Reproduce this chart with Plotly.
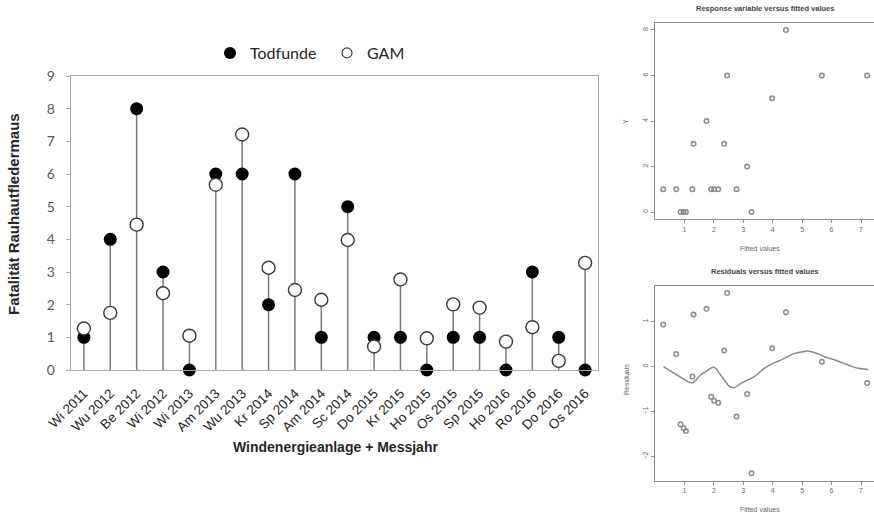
import plotly.graph_objects as go

# ---------------- data ----------------
categories = ["Wi 2011", "Wu 2012", "Be 2012", "Wi 2012", "Wi 2013", "Am 2013", "Wu 2013",
              "Kr 2014", "Sp 2014", "Am 2014", "Sc 2014", "Do 2015", "Kr 2015", "Ho 2015",
              "Os 2015", "Sp 2015", "Ho 2016", "Ro 2016", "Do 2016", "Os 2016"]
todfunde = [1, 4, 8, 3, 0, 6, 6, 2, 6, 1, 5, 1, 1, 0, 1, 1, 0, 3, 1, 0]
gam = [1.27, 1.75, 4.45, 2.35, 1.05, 5.67, 7.21, 3.13, 2.45, 2.15, 3.98, 0.72, 2.77, 0.97,
       2.01, 1.91, 0.87, 1.31, 0.28, 3.28]
residuals = [-0.22, 1.29, 1.21, 0.36, -1.43, 0.11, -0.36, -0.61, 1.64, -0.80, 0.41, 0.28, -1.11,
             -1.37, -0.76, -0.67, -1.28, 1.16, 0.94, -2.37]
smooth_x = [0.29, 0.75, 1.26, 1.55, 1.72, 2.00, 2.23, 2.52, 2.69, 2.92, 3.14, 3.37, 3.71, 4.00,
            4.23, 4.51, 4.74, 5.03, 5.20, 5.43, 5.77, 6.11, 6.57, 6.91, 7.25]
smooth_y = [0.0, -0.185, -0.356, -0.185, -0.11, -0.015, -0.185, -0.43, -0.467, -0.37, -0.30,
            -0.22, -0.04, 0.074, 0.133, 0.222, 0.296, 0.333, 0.348, 0.311, 0.222, 0.148, 0.037,
            -0.037, -0.06]
main_yticks = [0, 1, 2, 3, 4, 5, 6, 7, 8, 9]
resp_yticks = [0, 2, 4, 6, 8]
resid_yticks = [-2, -1, 0, 1]
fitted_xticks = [1, 2, 3, 4, 5, 6, 7]

W, H = 874, 515
def px_x(v):
    return v / W
def px_y(v):
    return (H - v) / H

fig = go.Figure()

# stems
sx, sy = [], []
for c, a, b in zip(categories, todfunde, gam):
    sx += [c, c, None]
    sy += [0, max(a, b), None]
fig.add_trace(go.Scatter(x=sx, y=sy, mode="lines", line=dict(color="#7a7a7a", width=1.5),
                         showlegend=False, hoverinfo="skip", xaxis="x", yaxis="y"))
fig.add_trace(go.Scatter(x=categories, y=todfunde, mode="markers", name="Todfunde",
                         marker=dict(color="black", size=13, line=dict(width=0)),
                         cliponaxis=False, showlegend=False, xaxis="x", yaxis="y"))
fig.add_trace(go.Scatter(x=categories, y=gam, mode="markers", name="GAM",
                         marker=dict(color="white", size=13, line=dict(color="#3a3a3a", width=1.4)),
                         cliponaxis=False, showlegend=False, xaxis="x", yaxis="y"))
# legend entries (smaller symbols, as in the original legend)
fig.add_trace(go.Scatter(x=[None], y=[None], mode="markers", name="Todfunde",
                         marker=dict(color="black", size=12, line=dict(width=0)),
                         xaxis="x", yaxis="y"))
fig.add_trace(go.Scatter(x=[None], y=[None], mode="markers", name="GAM",
                         marker=dict(color="white", size=10, line=dict(color="#3a3a3a", width=1.2)),
                         xaxis="x", yaxis="y"))

# response vs fitted
pt_marker = dict(symbol="circle-open", size=4.5, color="#8a8a8a", line=dict(width=1.5))
fig.add_trace(go.Scatter(x=gam, y=todfunde, mode="markers", showlegend=False,
                         marker=pt_marker, xaxis="x2", yaxis="y2"))
# residuals vs fitted
fig.add_trace(go.Scatter(x=gam, y=residuals, mode="markers", showlegend=False,
                         marker=pt_marker, xaxis="x3", yaxis="y3"))
fig.add_trace(go.Scatter(x=smooth_x, y=smooth_y, mode="lines", showlegend=False,
                         line=dict(color="#8a8a8a", width=1.5, shape="spline"),
                         xaxis="x3", yaxis="y3"))

gray_line = "#a8a8a8"
r_line = "#8c8c8c"
small_font = dict(family="Liberation Sans, Arial", size=7, color="#666666")

# right panel x range so that 0 -> 655px and 7 -> 861px
ppu = (861 - 655) / 7.0
x_end = (874 - 655) / ppu

fig.update_layout(
    width=W, height=H, margin=dict(l=0, r=0, t=0, b=0, autoexpand=False),
    paper_bgcolor="white", plot_bgcolor="white",
    showlegend=True,
    legend=dict(orientation="h", x=px_x(210), y=px_y(53), xanchor="left", yanchor="middle",
                font=dict(family="Lato, Open Sans", size=16, color="#262626"),
                itemwidth=30, entrywidth=72, entrywidthmode="pixels",
                bgcolor="rgba(0,0,0,0)"),
    xaxis=dict(domain=[px_x(70.7), px_x(598.3)], type="category", range=[-0.5, 19.5],
               showline=True, linecolor=gray_line, linewidth=1.2, mirror=True,
               showgrid=False, zeroline=False, ticks="", tickangle=-45,
               ticklabelstandoff=9,
               tickfont=dict(family="Liberation Sans, Arial", size=13.5, color="#1e1e1e"),
               anchor="y"),
    yaxis=dict(domain=[px_y(370), px_y(76)], range=[0, 9], tickvals=main_yticks,
               showline=True, linecolor=gray_line, linewidth=1.2, mirror=True,
               showgrid=False, zeroline=False, ticks="outside", ticklen=4, tickcolor=gray_line,
               ticklabelstandoff=8,
               tickfont=dict(family="Lato, Open Sans", size=14, color="#595959"),
               anchor="x"),
    xaxis2=dict(domain=[px_x(655), 1.0], range=[0, x_end], tickvals=fitted_xticks,
                showline=True, linecolor=r_line, linewidth=1, mirror=True,
                showgrid=False, zeroline=False, ticks="outside", ticklen=3, tickcolor=r_line,
                tickfont=small_font, anchor="y2"),
    yaxis2=dict(domain=[px_y(219.3), px_y(22.7)], range=[-0.32, 8.32], tickvals=resp_yticks,
                showline=True, linecolor=r_line, linewidth=1, mirror=True,
                showgrid=False, zeroline=False, ticks="outside", ticklen=3, tickcolor=r_line,
                tickangle=-90, tickfont=small_font, anchor="x2"),
    xaxis3=dict(domain=[px_x(655), 1.0], range=[0, x_end], tickvals=fitted_xticks,
                showline=True, linecolor=r_line, linewidth=1, mirror=True,
                showgrid=False, zeroline=False, ticks="outside", ticklen=3, tickcolor=r_line,
                tickfont=small_font, anchor="y3"),
    yaxis3=dict(domain=[px_y(480.5), px_y(285.7)], range=[-2.53, 1.80], tickvals=resid_yticks,
                showline=True, linecolor=r_line, linewidth=1, mirror=True,
                showgrid=False, zeroline=False, ticks="outside", ticklen=3, tickcolor=r_line,
                tickangle=-90, tickfont=small_font, anchor="x3"),
)

ann = []
ann.append(dict(text="<b>Fatalität Rauhautfledermaus</b>", x=px_x(14), y=px_y(214), xref="paper",
                yref="paper", showarrow=False, textangle=-90, xanchor="center", yanchor="middle",
                font=dict(family="Liberation Sans, Arial", size=15, color="#262626")))
ann.append(dict(text="<b>Windenergieanlage + Messjahr</b>", x=px_x(335), y=px_y(447), xref="paper",
                yref="paper", showarrow=False, xanchor="center", yanchor="middle",
                font=dict(family="Liberation Sans, Arial", size=14, color="#262626")))
ann.append(dict(text="<b>Response variable versus fitted values</b>", x=px_x(765), y=px_y(8),
                xref="paper", yref="paper", showarrow=False, xanchor="center", yanchor="middle",
                font=dict(family="Liberation Sans, Arial", size=7.5, color="#444444")))
ann.append(dict(text="<b>Residuals versus fitted values</b>", x=px_x(765), y=px_y(271),
                xref="paper", yref="paper", showarrow=False, xanchor="center", yanchor="middle",
                font=dict(family="Liberation Sans, Arial", size=7.5, color="#444444")))
for yy in (248, 509):
    ann.append(dict(text="Fitted values", x=px_x(760), y=px_y(yy), xref="paper", yref="paper",
                    showarrow=False, xanchor="center", yanchor="middle", font=small_font))
ann.append(dict(text="Y", x=px_x(626), y=px_y(122), xref="paper", yref="paper", showarrow=False,
                textangle=-90, xanchor="center", yanchor="middle", font=small_font))
ann.append(dict(text="Residuals", x=px_x(626), y=px_y(380), xref="paper", yref="paper",
                showarrow=False, textangle=-90, xanchor="center", yanchor="middle", font=small_font))
fig.update_layout(annotations=ann)

fig.write_html("out.html")
